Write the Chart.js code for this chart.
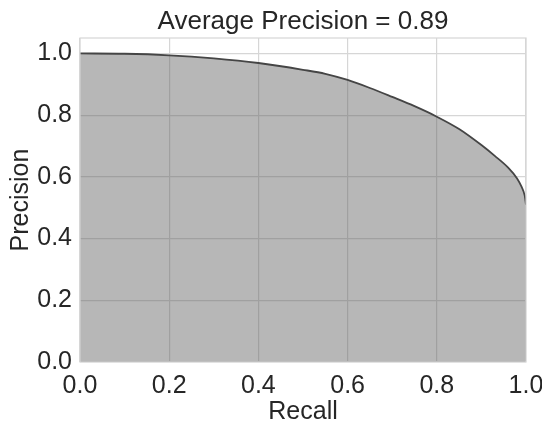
<!DOCTYPE html>
<html><head><meta charset="utf-8">
<script src="https://cdn.jsdelivr.net/npm/chart.js@4"></script>
<style>html,body{margin:0;padding:0;background:#fff}#c{display:block}</style>
</head><body>
<canvas id="c" width="542" height="423"></canvas>
<script>
const recall = [0, 0.1, 0.2, 0.3, 0.4, 0.5, 0.55, 0.6, 0.65, 0.7, 0.75, 0.8, 0.85, 0.9, 0.93, 0.96, 0.98, 0.99, 0.997, 1.0];
const precision = [1.0, 0.999, 0.994, 0.984, 0.969, 0.947, 0.934, 0.914, 0.888, 0.859, 0.829, 0.795, 0.755, 0.703, 0.668, 0.630, 0.595, 0.568, 0.540, 0.510];
const xTicks = [0, 0.2, 0.4, 0.6, 0.8, 1.0];
const yTicks = [0, 0.2, 0.4, 0.6, 0.8, 1.0];
const titleText = 'Average Precision = 0.89';

const font = 'Liberation Sans, Arial, sans-serif';
const frame = {
  id: 'frame',
  afterDraw(chart) {
    const a = chart.chartArea, ctx = chart.ctx;
    ctx.save();
    ctx.strokeStyle = '#d6d6d6';
    ctx.lineWidth = 1.2;
    ctx.strokeRect(a.left, a.top, a.right - a.left, a.bottom - a.top);
    ctx.fillStyle = '#262626';
    ctx.font = '26px ' + font;
    ctx.textAlign = 'center';
    ctx.textBaseline = 'alphabetic';
    ctx.fillText(titleText, (a.left + a.right) / 2, a.top - 9);
    ctx.restore();
  }
};
new Chart(document.getElementById('c'), {
  type: 'line',
  data: {
    datasets: [{
      data: recall.map((r, i) => ({x: r, y: precision[i]})),
      borderColor: '#454545',
      borderWidth: 1.8,
      backgroundColor: 'rgba(89,89,89,0.43)',
      fill: 'origin',
      pointRadius: 0,
      cubicInterpolationMode: 'monotone'
    }]
  },
  options: {
    responsive: false,
    animation: false,
    layout: {padding: {left: 0, right: 16, top: 38, bottom: 0}},
    plugins: {
      legend: {display: false},
      tooltip: {enabled: false},
      title: {display: false}
    },
    scales: {
      x: {
        type: 'linear', min: 0, max: 1,
        afterBuildTicks: s => { s.ticks = xTicks.map(v => ({value: v})); },
        afterFit: s => { s.height = 61; s.paddingRight = 0; s.paddingLeft = 0; },
        ticks: {color: '#262626', font: {family: font, size: 25}, padding: 9,
          callback: v => v.toFixed(1)},
        grid: {color: '#d6d6d6', lineWidth: 1.2, drawTicks: false},
        border: {display: false},
        title: {display: true, text: 'Recall', color: '#262626',
          font: {family: font, size: 25}, padding: {top: 4, bottom: -4}}
      },
      y: {
        type: 'linear', min: 0, max: 1.05,
        afterBuildTicks: s => { s.ticks = yTicks.map(v => ({value: v})); },
        afterFit: s => { s.width = 80; s.paddingTop = 0; s.paddingBottom = 0; },
        ticks: {color: '#262626', font: {family: font, size: 25}, padding: 8,
          callback: v => v.toFixed(1)},
        grid: {color: '#d6d6d6', lineWidth: 1.2, drawTicks: false},
        border: {display: false},
        title: {display: true, text: 'Precision', color: '#262626',
          font: {family: font, size: 25}, padding: {top: 6, bottom: 0}}
      }
    }
  },
  plugins: [frame]
});
</script>
</body></html>
